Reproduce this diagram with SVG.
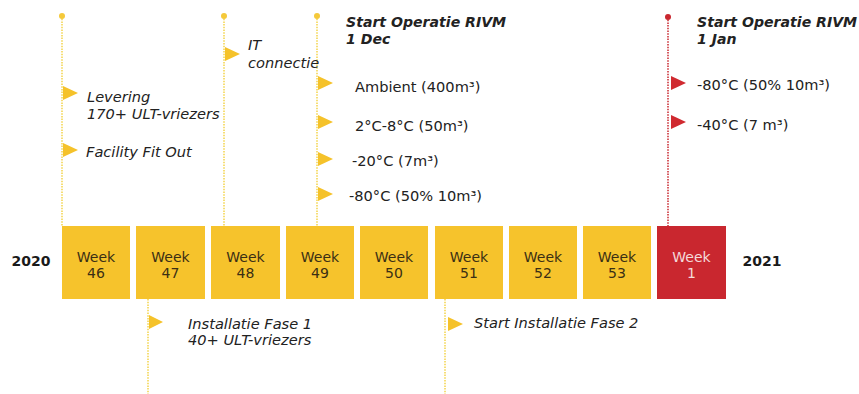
<svg xmlns="http://www.w3.org/2000/svg" width="859" height="394" viewBox="0 0 859 394">
<style>
.wk{fill:#F6C32C}
.wkr{fill:#C9272F}
.wt{font-family:"DejaVu Sans",Verdana,sans-serif;font-size:14px;fill:#3b2f14;text-anchor:middle}
.wtr{font-family:"DejaVu Sans",Verdana,sans-serif;font-size:14px;fill:#F4DADA;text-anchor:middle}
.yr{font-family:"DejaVu Sans",Verdana,sans-serif;font-size:14px;font-weight:bold;fill:#1a1a1a}
.it{font-family:"DejaVu Sans",Verdana,sans-serif;font-size:14.6px;font-style:italic;fill:#222}
.bi{font-family:"DejaVu Sans",Verdana,sans-serif;font-size:14.1px;font-style:italic;font-weight:bold;fill:#222}
.rg{font-family:"DejaVu Sans",Verdana,sans-serif;font-size:14.6px;fill:#222}
.ly{stroke:#F3D44A;stroke-width:1.5;stroke-dasharray:1.5 1.2;fill:none}
.lr{stroke:#C9272F;stroke-width:1.5;stroke-dasharray:1.5 1.2;fill:none}
.ty{fill:#F5C22A}
.tr{fill:#D02A30}
.dy{fill:#F5C93A}
.dr{fill:#C9272F}
</style>
<g id="connectors">
<line class="ly" x1="62" y1="16" x2="62" y2="226"/>
<line class="ly" x1="224" y1="16" x2="224" y2="226"/>
<line class="ly" x1="317" y1="16" x2="317" y2="226"/>
<line class="lr" x1="668" y1="17" x2="668" y2="226"/>
<line class="ly" x1="148" y1="299" x2="148" y2="394"/>
<line class="ly" x1="445" y1="299" x2="445" y2="394"/>
<circle class="dy" cx="62" cy="16" r="3"/>
<circle class="dy" cx="224" cy="16" r="3"/>
<circle class="dy" cx="317" cy="16" r="3"/>
<circle class="dr" cx="668" cy="17" r="3"/>
</g>
<g id="year-2020"><text class="yr" x="31" y="266" text-anchor="middle">2020</text></g>
<g id="year-2021"><text class="yr" x="762" y="266" text-anchor="middle">2021</text></g>
<g id="week46"><rect class="wk" x="62" y="226" width="68" height="73"/><text class="wt" x="96" y="262">Week</text><text class="wt" x="96" y="278">46</text></g>
<g id="week47"><rect class="wk" x="136" y="226" width="69" height="73"/><text class="wt" x="170.5" y="262">Week</text><text class="wt" x="170.5" y="278">47</text></g>
<g id="week48"><rect class="wk" x="211" y="226" width="69" height="73"/><text class="wt" x="245.5" y="262">Week</text><text class="wt" x="245.5" y="278">48</text></g>
<g id="week49"><rect class="wk" x="286" y="226" width="68" height="73"/><text class="wt" x="320" y="262">Week</text><text class="wt" x="320" y="278">49</text></g>
<g id="week50"><rect class="wk" x="360" y="226" width="68" height="73"/><text class="wt" x="394" y="262">Week</text><text class="wt" x="394" y="278">50</text></g>
<g id="week51"><rect class="wk" x="435" y="226" width="68" height="73"/><text class="wt" x="469" y="262">Week</text><text class="wt" x="469" y="278">51</text></g>
<g id="week52"><rect class="wk" x="509" y="226" width="68" height="73"/><text class="wt" x="543" y="262">Week</text><text class="wt" x="543" y="278">52</text></g>
<g id="week53"><rect class="wk" x="583" y="226" width="68" height="73"/><text class="wt" x="617" y="262">Week</text><text class="wt" x="617" y="278">53</text></g>
<g id="week1"><rect class="wkr" x="657" y="226" width="69" height="73"/><text class="wtr" x="691.5" y="262">Week</text><text class="wtr" x="691.5" y="278">1</text></g>
<g id="levering"><polygon class="ty" points="63,86 78,93 63,100"/><text class="it" x="87" y="102">Levering</text><text class="it" x="87" y="119">170+ ULT-vriezers</text></g>
<g id="facility"><polygon class="ty" points="63,143 78,150 63,157"/><text class="it" x="86" y="157">Facility Fit Out</text></g>
<g id="it-connectie"><polygon class="ty" points="225,47 240,54 225,61"/><text class="it" x="248" y="50">IT</text><text class="it" x="248" y="68">connectie</text></g>
<g id="start-dec"><text class="bi" x="346" y="27">Start Operatie RIVM</text><text class="bi" x="346" y="44">1 Dec</text></g>
<g id="ambient"><polygon class="ty" points="318,76 333,83 318,90"/><text class="rg" x="355" y="92">Ambient (400m³)</text></g>
<g id="c2-8"><polygon class="ty" points="318,115 333,122 318,129"/><text class="rg" x="355" y="131">2°C-8°C (50m³)</text></g>
<g id="m20"><polygon class="ty" points="318,152 333,159 318,166"/><text class="rg" x="352" y="166">-20°C (7m³)</text></g>
<g id="m80"><polygon class="ty" points="318,187 333,194 318,201"/><text class="rg" x="349" y="201">-80°C (50% 10m³)</text></g>
<g id="start-jan"><text class="bi" x="697" y="27">Start Operatie RIVM</text><text class="bi" x="697" y="44">1 Jan</text></g>
<g id="jan-m80"><polygon class="tr" points="671,76 686,83 671,90"/><text class="rg" x="697" y="90">-80°C (50% 10m³)</text></g>
<g id="jan-m40"><polygon class="tr" points="671,115 686,122 671,129"/><text class="rg" x="697" y="130">-40°C (7 m³)</text></g>
<g id="fase1"><polygon class="ty" points="149,315 163,322 149,329"/><text class="it" x="188" y="329">Installatie Fase 1</text><text class="it" x="188" y="345">40+ ULT-vriezers</text></g>
<g id="fase2"><polygon class="ty" points="448,317 463,324 448,331"/><text class="it" x="474" y="328">Start Installatie Fase 2</text></g>
</svg>
